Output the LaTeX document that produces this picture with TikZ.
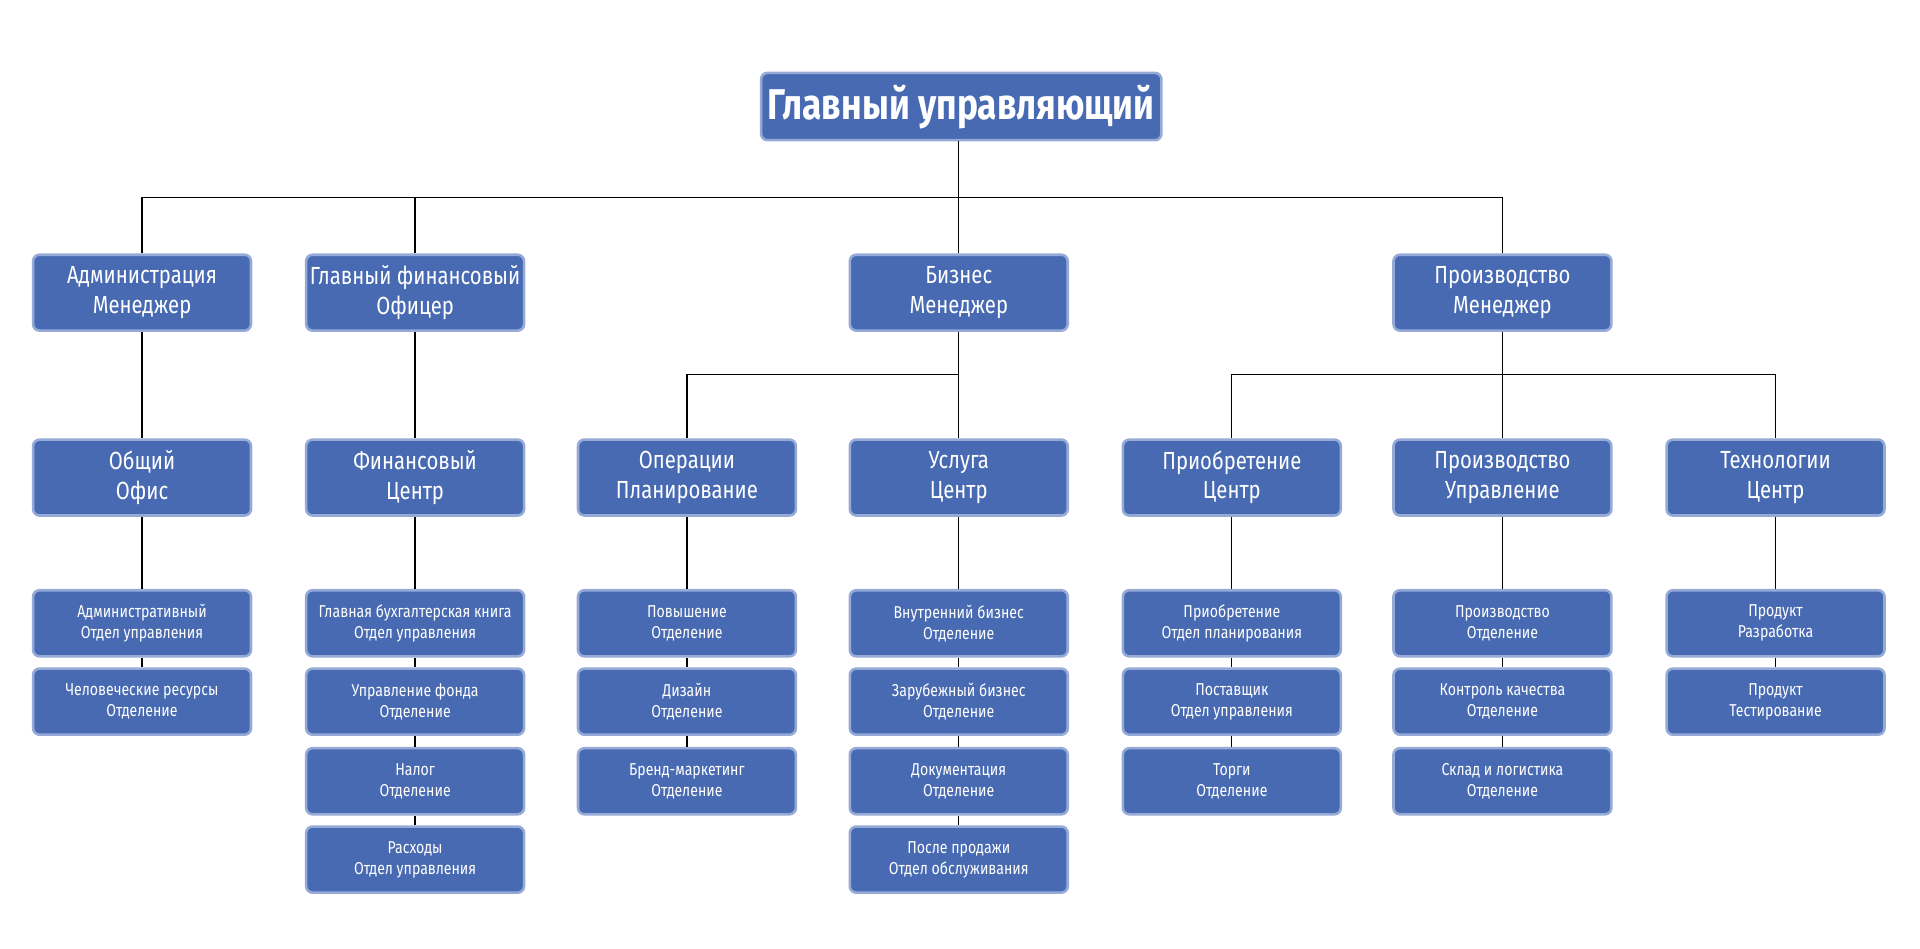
\documentclass[tikz,border=0pt]{standalone}
\usepackage{fontspec}
\setmainfont{Fira Sans}[FakeStretch=0.82]
\usepackage{xcolor}
\usetikzlibrary{positioning,calc}
\definecolor{boxblue}{RGB}{72,106,178}
\definecolor{boxedge}{RGB}{150,170,215}

\begin{document}
\begin{tikzpicture}[x=0.02cm, y=-0.02cm,
    unit/.style={rectangle, rounded corners=3pt, draw=boxedge, line width=1.2pt, fill=boxblue, text=white, align=center, minimum width=3.56cm, minimum height=1.24cm, font=\fontsize{11.5}{13.6}\selectfont, inner sep=1pt},
    dept/.style={unit, minimum height=1.08cm, font=\fontsize{8}{9.8}\selectfont},
    link/.style={draw=black, line width=0.6pt},
]
\useasboundingbox (0,0) rectangle (1568,775);

% Top
\node[unit, minimum width=6.54cm, minimum height=1.1cm, font=\fontsize{20}{24}\bfseries\selectfont] (ceo) at (785,87) {Главный управляющий};

% Managers
\node[unit] (adm) at (116,239) {Администрация\\Менеджер};
\node[unit] (cfo) at (339,239) {Главный финансовый\\Офицер};
\node[unit] (bus) at (783,239) {Бизнес\\Менеджер};
\node[unit] (prod) at (1227,239) {Производство\\Менеджер};

% Centers
\node[unit] (office) at (116,390) {Общий\\Офис};
\node[unit] (fin) at (339,390) {Финансовый\\Центр};
\node[unit] (ops) at (561,390) {Операции\\Планирование};
\node[unit] (serv) at (783,390) {Услуга\\Центр};
\node[unit] (acq) at (1006,390) {Приобретение\\Центр};
\node[unit] (pman) at (1227,390) {Производство\\Управление};
\node[unit] (tech) at (1450,390) {Технологии\\Центр};

% Departments
\node[dept] (a1) at (116,509) {Административный\\Отдел управления};
\node[dept] (a2) at (116,573) {Человеческие ресурсы\\Отделение};
\node[dept] (f1) at (339,509) {Главная бухгалтерская книга\\Отдел управления};
\node[dept] (f2) at (339,573) {Управление фонда\\Отделение};
\node[dept] (f3) at (339,638) {Налог\\Отделение};
\node[dept] (f4) at (339,702) {Расходы\\Отдел управления};
\node[dept] (o1) at (561,509) {Повышение\\Отделение};
\node[dept] (o2) at (561,573) {Дизайн\\Отделение};
\node[dept] (o3) at (561,638) {Бренд-маркетинг\\Отделение};
\node[dept] (s1) at (783,509) {Внутренний бизнес\\Отделение};
\node[dept] (s2) at (783,573) {Зарубежный бизнес\\Отделение};
\node[dept] (s3) at (783,638) {Документация\\Отделение};
\node[dept] (s4) at (783,702) {После продажи\\Отдел обслуживания};
\node[dept] (q1) at (1006,509) {Приобретение\\Отдел планирования};
\node[dept] (q2) at (1006,573) {Поставщик\\Отдел управления};
\node[dept] (q3) at (1006,638) {Торги\\Отделение};
\node[dept] (p1) at (1227,509) {Производство\\Отделение};
\node[dept] (p2) at (1227,573) {Контроль качества\\Отделение};
\node[dept] (p3) at (1227,638) {Склад и логистика\\Отделение};
\node[dept] (t1) at (1450,509) {Продукт\\Разработка};
\node[dept] (t2) at (1450,573) {Продукт\\Тестирование};

% Connectors
\coordinate (top) at (783,161);
\coordinate (busj) at (783,306);
\coordinate (prodj) at (1227,306);
\draw[link] (ceo.south -| top) -- (top);
\draw[link] (adm.north) |- (top) -| (prod.north);
\draw[link] (cfo.north) -- (cfo.north |- top);
\draw[link] (top) -- (bus.north);
\draw[link] (bus.south) -- (busj);
\draw[link] (ops.north) |- (busj) -- (serv.north);
\draw[link] (prod.south) -- (prodj);
\draw[link] (acq.north) |- (prodj) -| (tech.north);
\draw[link] (prodj) -- (pman.north);
\foreach \a/\b in {adm/office, cfo/fin,
    office/a1, a1/a2, fin/f1, f1/f2, f2/f3, f3/f4,
    ops/o1, o1/o2, o2/o3, serv/s1, s1/s2, s2/s3, s3/s4,
    acq/q1, q1/q2, q2/q3, pman/p1, p1/p2, p2/p3, tech/t1, t1/t2}
    \draw[link] (\a.south) -- (\b.north);

\end{tikzpicture}
\end{document}
